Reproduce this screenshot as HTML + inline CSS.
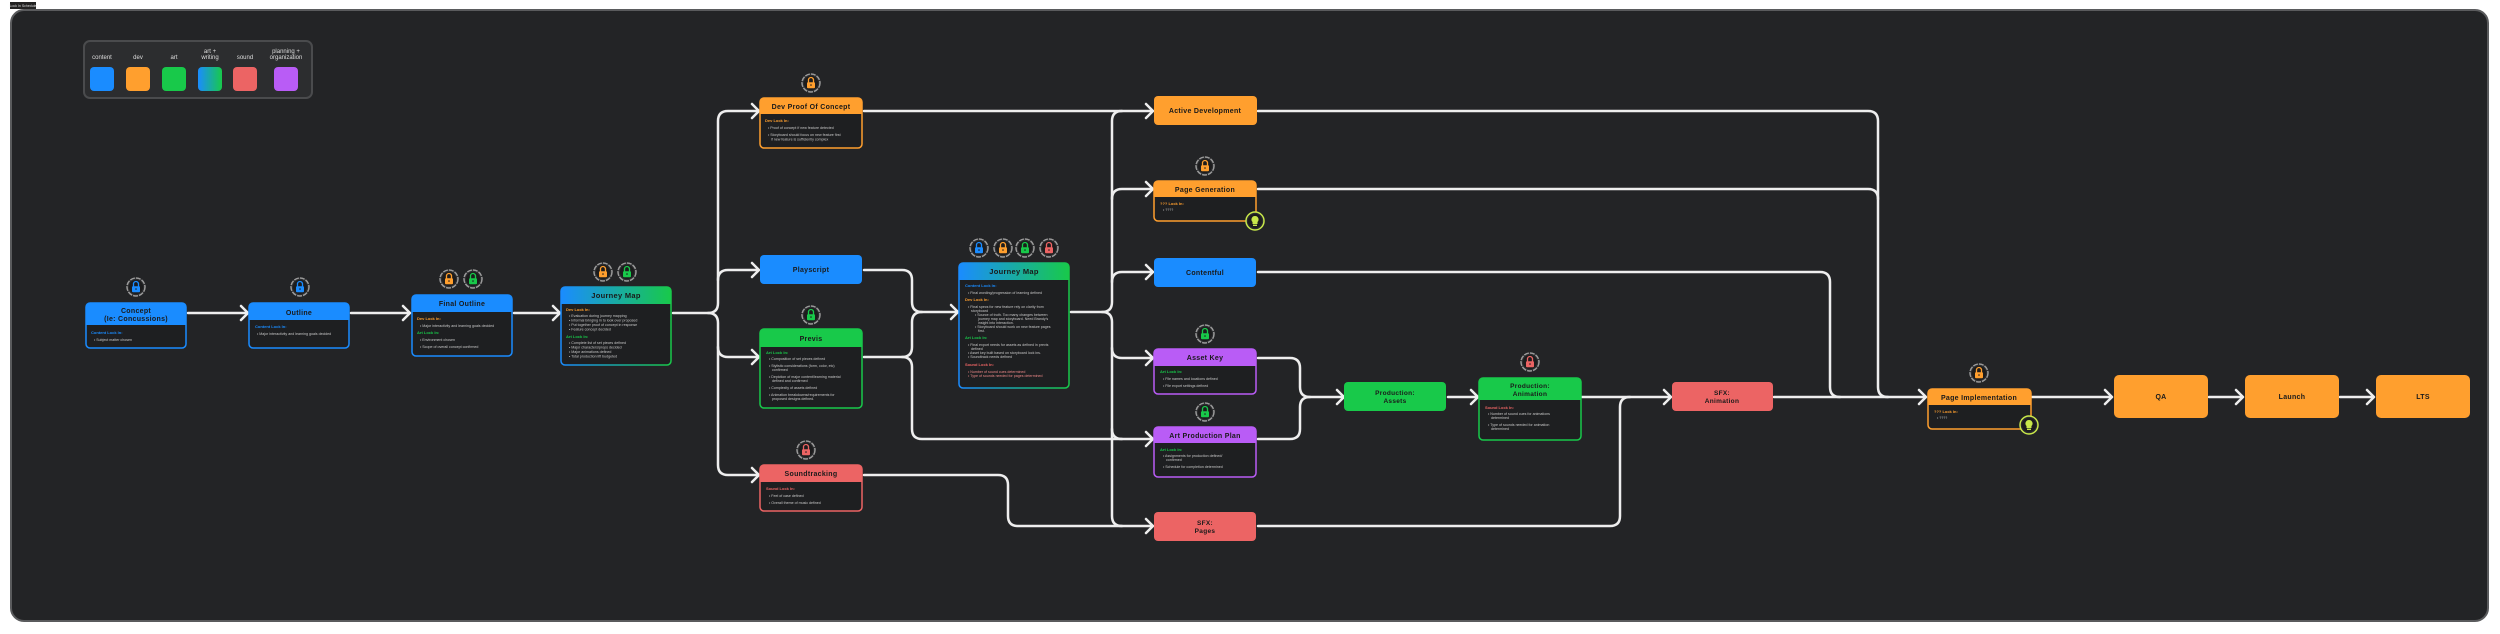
<!DOCTYPE html>
<html><head><meta charset="utf-8"><style>
html,body{margin:0;padding:0;background:#fff;width:2500px;height:634px;overflow:hidden}
svg{display:block}
.t{font-family:"Liberation Sans",sans-serif;font-weight:bold;fill:#1a1a1a;text-anchor:middle;letter-spacing:0.3px}
.lg{font-family:"Liberation Sans",sans-serif;fill:#ddd;font-size:6px;text-anchor:middle}
.h{font-family:"Liberation Sans",sans-serif;font-size:4px;font-weight:bold}
.b{font-family:"Liberation Sans",sans-serif;font-size:3.6px;fill:#c8c8c8}
.e{fill:none;stroke:#eee;stroke-width:2.5;stroke-linecap:round;stroke-linejoin:round}
</style></head><body>
<svg width="2500" height="634" viewBox="0 0 2500 634" xmlns="http://www.w3.org/2000/svg">
<defs>
<linearGradient id="g" x1="0" x2="1" y1="0" y2="0"><stop offset="0" stop-color="#1a8cff"/><stop offset="1" stop-color="#18c94a"/></linearGradient>
<symbol id="lk" viewBox="-10 -10 20 20">
<circle r="9" fill="#2b2c2e" stroke="#9a9a9a" stroke-width="1.5" stroke-dasharray="5 1"/>
<circle r="7" fill="#1c1c1d"/>
<path d="M-2.5 -0.5 V-3 A2.5 2.5 0 0 1 2.5 -3 V-0.5" fill="none" stroke="currentColor" stroke-width="1.3"/>
<rect x="-4" y="-0.8" width="8" height="6" rx="1" fill="currentColor"/>
<circle cy="2" r="0.8" fill="#1c1c1d"/>
</symbol>
<symbol id="bulb" viewBox="-10 -10 20 20">
<circle r="9" fill="#2b2c2e" stroke="#c8e84a" stroke-width="1.5"/>
<circle r="7" fill="#1c1c1d"/>
<path d="M0 -5 A3.5 3.5 0 0 1 2.5 1 V3 H-2.5 V1 A3.5 3.5 0 0 1 0 -5Z" fill="#c8e84a"/>
<rect x="-2" y="3.6" width="4" height="1.4" fill="#c8e84a"/>
</symbol>
</defs>
<rect x="0" y="0" width="2500" height="634" fill="#fff"/>
<rect x="10" y="2" width="26" height="7" fill="#222"/>
<text x="23" y="7" font-family="Liberation Sans" font-size="3.5" fill="#ddd" text-anchor="middle">Lock In Schedule</text>
<rect x="11" y="10" width="2477" height="611" rx="13" fill="#232426" stroke="#5a5b5d" stroke-width="2"/>

<!-- legend -->
<rect x="84" y="41" width="228" height="57" rx="6" fill="#2c2d2f" stroke="#4a4b4d" stroke-width="2"/>
<text class="lg" x="102" y="59">content</text>
<text class="lg" x="138" y="59">dev</text>
<text class="lg" x="174" y="59">art</text>
<text class="lg" x="210" y="53">art +</text><text class="lg" x="210" y="59">writing</text>
<text class="lg" x="245" y="59">sound</text>
<text class="lg" x="286" y="53">planning +</text><text class="lg" x="286" y="59">organization</text>
<rect x="90" y="67" width="24" height="24" rx="4" fill="#1a8cff"/>
<rect x="126" y="67" width="24" height="24" rx="4" fill="#ff9f2e"/>
<rect x="162" y="67" width="24" height="24" rx="4" fill="#18c94a"/>
<rect x="198" y="67" width="24" height="24" rx="4" fill="url(#g)"/>
<rect x="233" y="67" width="24" height="24" rx="4" fill="#ec6464"/>
<rect x="274" y="67" width="24" height="24" rx="4" fill="#b95cf6"/>

<!-- edges -->
<g class="e">
<path d="M188 313H247M351 313H409M514 313H559"/>
<path d="M673 313H708Q718 313 718 303V121Q718 111 728 111H758"/>
<path d="M708 313Q718 313 718 323V465Q718 475 728 475H758"/>
<path d="M718 280Q718 270 728 270H758M718 347Q718 357 728 357H758"/>
<path d="M864 270H902Q912 270 912 280V302Q912 312 922 312H957"/>
<path d="M864 357H902Q912 357 912 347V322Q912 312 922 312"/>
<path d="M902 357Q912 357 912 367V429Q912 439 922 439H1152"/>
<path d="M864 475H998Q1008 475 1008 485V516Q1008 526 1018 526H1152"/>
<path d="M864 111H1152"/>
<path d="M1071 312H1102Q1112 312 1112 302V121Q1112 111 1122 111"/>
<path d="M1102 312Q1112 312 1112 322V516Q1112 526 1122 526"/>
<path d="M1112 199Q1112 189 1122 189H1152M1112 282Q1112 272 1122 272H1152M1112 348Q1112 358 1122 358H1152M1112 429Q1112 439 1122 439"/>
<path d="M1258 358H1290Q1300 358 1300 368V387Q1300 397 1310 397H1343"/>
<path d="M1258 439H1290Q1300 439 1300 429V407Q1300 397 1310 397"/>
<path d="M1448 397H1477M1582 397H1670"/>
<path d="M1258 526H1610Q1620 526 1620 516V407Q1620 397 1630 397"/>
<path d="M1774 397H1925"/>
<path d="M1258 111H1868Q1878 111 1878 121V387Q1878 397 1888 397"/>
<path d="M1258 189H1868Q1878 189 1878 199"/>
<path d="M1258 272H1820Q1830 272 1830 282V387Q1830 397 1840 397"/>
<path d="M2032 397H2111M2209 397H2242M2340 397H2373"/>
<!-- arrowheads -->
<path d="M241 306L248 313L241 320M403 306L410 313L403 320M553 306L560 313L553 320"/>
<path d="M752 104L759 111L752 118M752 263L759 270L752 277M752 350L759 357L752 364M752 468L759 475L752 482"/>
<path d="M951 305L958 312L951 319"/>
<path d="M1146 104L1153 111L1146 118M1146 182L1153 189L1146 196M1146 265L1153 272L1146 279M1146 351L1153 358L1146 365M1146 432L1153 439L1146 446M1146 519L1153 526L1146 533"/>
<path d="M1337 390L1344 397L1337 404M1471 390L1478 397L1471 404M1664 390L1671 397L1664 404M1919 390L1926 397L1919 404"/>
<path d="M2105 390L2112 397L2105 404M2236 390L2243 397L2236 404M2367 390L2374 397L2367 404"/>
</g>

<!-- Concept -->
<rect x="86" y="303" width="100" height="45" rx="4" fill="#1e1f21" stroke="#1a8cff" stroke-width="1.5"/>
<path d="M86 325V307Q86 303 90 303H180Q186 303 186 309V325Z" fill="#1a8cff"/>
<text class="t" x="136" y="313" font-size="7">Concept</text><text class="t" x="136" y="321" font-size="7">(Ie: Concussions)</text>
<text class="h" x="91" y="334" fill="#1a8cff">Content Lock In:</text>
<text class="b" x="94" y="341">•  Subject matter chosen</text>
<use href="#lk" x="126" y="277" width="20" height="20" style="color:#1a8cff"/>

<!-- Outline -->
<rect x="249" y="303" width="100" height="45" rx="4" fill="#1e1f21" stroke="#1a8cff" stroke-width="1.5"/>
<path d="M249 320V307Q249 303 253 303H343Q349 303 349 309V320Z" fill="#1a8cff"/>
<text class="t" x="299" y="315" font-size="7">Outline</text>
<text class="h" x="255" y="328" fill="#1a8cff">Content Lock In:</text>
<text class="b" x="257" y="335">•  Major interactivity and learning goals decided</text>
<use href="#lk" x="290" y="277" width="20" height="20" style="color:#1a8cff"/>

<!-- Final Outline -->
<rect x="412" y="295" width="100" height="61" rx="4" fill="#1e1f21" stroke="#1a8cff" stroke-width="1.5"/>
<path d="M412 312V299Q412 295 416 295H506Q512 295 512 301V312Z" fill="#1a8cff"/>
<text class="t" x="462" y="306" font-size="7">Final Outline</text>
<text class="h" x="417" y="320" fill="#ff9f2e">Dev Lock In:</text>
<text class="b" x="420" y="327">•  Major interactivity and learning goals decided</text>
<text class="h" x="417" y="334" fill="#18c94a">Art Lock In:</text>
<text class="b" x="420" y="341">•  Environment chosen</text>
<text class="b" x="420" y="348">•  Scope of overall concept confirmed</text>
<use href="#lk" x="439" y="269" width="20" height="20" style="color:#ff9f2e"/>
<use href="#lk" x="463" y="269" width="20" height="20" style="color:#18c94a"/>

<!-- Journey Map 1 -->
<rect x="561" y="287" width="110" height="78" rx="4" fill="#1e1f21" stroke="url(#g)" stroke-width="1.5"/>
<path d="M561 304V291Q561 287 565 287H665Q671 287 671 293V304Z" fill="url(#g)"/>
<text class="t" x="616" y="298" font-size="7.5">Journey Map</text>
<text class="h" x="566" y="311" fill="#ff9f2e">Dev Lock In:</text>
<text class="b" x="569" y="317">•  Evaluation during journey mapping</text>
<text class="b" x="569" y="321.5">•  Informal bringing in to look over proposed</text>
<text class="b" x="569" y="326">•  Put together proof of concept in response</text>
<text class="b" x="569" y="330.5">•  Feature concept decided</text>
<text class="h" x="566" y="338" fill="#18c94a">Art Lock In:</text>
<text class="b" x="569" y="344">•  Complete list of set pieces defined</text>
<text class="b" x="569" y="348.5">•  Major characters/props decided</text>
<text class="b" x="569" y="353">•  Major animations defined</text>
<text class="b" x="569" y="357.5">•  Total production lift budgeted</text>
<use href="#lk" x="593" y="262" width="20" height="20" style="color:#ff9f2e"/>
<use href="#lk" x="617" y="262" width="20" height="20" style="color:#18c94a"/>

<!-- Dev PoC -->
<rect x="760" y="98" width="102" height="50" rx="4" fill="#1e1f21" stroke="#ff9f2e" stroke-width="1.5"/>
<path d="M760 114V102Q760 98 764 98H856Q862 98 862 104V114Z" fill="#ff9f2e"/>
<text class="t" x="811" y="109" font-size="7">Dev Proof Of Concept</text>
<text class="h" x="765" y="122" fill="#ff9f2e">Dev Lock In:</text>
<text class="b" x="768" y="129">•  Proof of concept if new feature detected</text>
<text class="b" x="768" y="136">•  Storyboard should focus on new feature first</text>
<text class="b" x="771" y="140.5">if new feature is sufficiently complex</text>
<use href="#lk" x="801" y="73" width="20" height="20" style="color:#ff9f2e"/>

<!-- Playscript -->
<rect x="760" y="255" width="102" height="29" rx="4" fill="#1a8cff"/>
<text class="t" x="811" y="272" font-size="7">Playscript</text>

<!-- Previs -->
<rect x="760" y="329" width="102" height="79" rx="4" fill="#1e1f21" stroke="#18c94a" stroke-width="1.5"/>
<path d="M760 347V333Q760 329 764 329H856Q862 329 862 335V347Z" fill="#18c94a"/>
<text class="t" x="811" y="341" font-size="7">Previs</text>
<text class="h" x="766" y="354" fill="#18c94a">Art Lock In:</text>
<text class="b" x="769" y="360">•  Composition of set pieces defined</text>
<text class="b" x="769" y="367">•  Stylistic considerations (form, color, etc)</text>
<text class="b" x="772" y="371">confirmed</text>
<text class="b" x="769" y="378">•  Depiction of major content/learning material</text>
<text class="b" x="772" y="382">defined and confirmed</text>
<text class="b" x="769" y="389">•  Complexity of assets defined</text>
<text class="b" x="769" y="396">•  Animation breakdowns/requirements for</text>
<text class="b" x="772" y="400">proposed designs defined.</text>
<use href="#lk" x="801" y="305" width="20" height="20" style="color:#18c94a"/>

<!-- Soundtracking -->
<rect x="760" y="465" width="102" height="46" rx="4" fill="#1e1f21" stroke="#ec6464" stroke-width="1.5"/>
<path d="M760 482V469Q760 465 764 465H856Q862 465 862 471V482Z" fill="#ec6464"/>
<text class="t" x="811" y="476" font-size="7">Soundtracking</text>
<text class="h" x="766" y="490" fill="#ec6464">Sound Lock In:</text>
<text class="b" x="769" y="497">•  Feel of case defined</text>
<text class="b" x="769" y="504">•  Overall theme of music defined</text>
<use href="#lk" x="796" y="440" width="20" height="20" style="color:#ec6464"/>

<!-- Journey Map 2 -->
<rect x="959" y="263" width="110" height="125" rx="4" fill="#1e1f21" stroke="url(#g)" stroke-width="1.5"/>
<path d="M959 280V267Q959 263 963 263H1063Q1069 263 1069 269V280Z" fill="url(#g)"/>
<text class="t" x="1014" y="274" font-size="7.5">Journey Map</text>
<text class="h" x="965" y="287" fill="#1a8cff">Content Lock In:</text>
<text class="b" x="968" y="294">•  Final wording/progression of learning defined</text>
<text class="h" x="965" y="301" fill="#ff9f2e">Dev Lock In:</text>
<text class="b" x="968" y="308">•  Final specs for new feature rely on clarity from</text>
<text class="b" x="971" y="312">storyboard</text>
<text class="b" x="975" y="316">•  Source of truth. Too many changes between</text>
<text class="b" x="978" y="320">journey map and storyboard. Need Brandy's</text>
<text class="b" x="978" y="324">insight into interaction.</text>
<text class="b" x="975" y="328">•  Storyboard should work on new feature pages</text>
<text class="b" x="978" y="332">first.</text>
<text class="h" x="965" y="339" fill="#18c94a">Art Lock In:</text>
<text class="b" x="968" y="346">•  Final export needs for assets as defined in previs</text>
<text class="b" x="971" y="350">defined</text>
<text class="b" x="968" y="354">•  Asset key built based on storyboard lock ins.</text>
<text class="b" x="968" y="358">•  Soundtrack needs defined</text>
<text class="h" x="965" y="366" fill="#ec6464">Sound Lock In:</text>
<text class="b" x="968" y="373" style="fill:#e88">•  Number of sound cues determined</text>
<text class="b" x="968" y="377" style="fill:#e88">•  Type of sounds needed for pages determined</text>
<use href="#lk" x="969" y="238" width="20" height="20" style="color:#1a8cff"/>
<use href="#lk" x="993" y="238" width="20" height="20" style="color:#ff9f2e"/>
<use href="#lk" x="1015" y="238" width="20" height="20" style="color:#18c94a"/>
<use href="#lk" x="1039" y="238" width="20" height="20" style="color:#ec6464"/>

<!-- Active Development -->
<rect x="1154" y="96" width="103" height="29" rx="4" fill="#ff9f2e"/>
<text class="t" x="1205" y="113" font-size="7">Active Development</text>

<!-- Page Generation -->
<rect x="1154" y="181" width="102" height="40" rx="4" fill="#1e1f21" stroke="#ff9f2e" stroke-width="1.5"/>
<path d="M1154 197V185Q1154 181 1158 181H1250Q1256 181 1256 187V197Z" fill="#ff9f2e"/>
<text class="t" x="1205" y="192" font-size="7">Page Generation</text>
<text class="h" x="1160" y="205" fill="#ff9f2e">??? Lock In:</text>
<text class="b" x="1163" y="211">•  ????</text>
<use href="#lk" x="1195" y="156" width="20" height="20" style="color:#ff9f2e"/>
<use href="#bulb" x="1245" y="211" width="20" height="20"/>

<!-- Contentful -->
<rect x="1154" y="258" width="102" height="29" rx="4" fill="#1a8cff"/>
<text class="t" x="1205" y="275" font-size="7">Contentful</text>

<!-- Asset Key -->
<rect x="1154" y="349" width="102" height="45" rx="4" fill="#1e1f21" stroke="#b95cf6" stroke-width="1.5"/>
<path d="M1154 366V353Q1154 349 1158 349H1250Q1256 349 1256 355V366Z" fill="#b95cf6"/>
<text class="t" x="1205" y="360" font-size="7">Asset Key</text>
<text class="h" x="1160" y="373" fill="#18c94a">Art Lock In:</text>
<text class="b" x="1163" y="380">•  File names and locations defined</text>
<text class="b" x="1163" y="387">•  File export settings defined</text>
<use href="#lk" x="1195" y="324" width="20" height="20" style="color:#18c94a"/>

<!-- Art Production Plan -->
<rect x="1154" y="427" width="102" height="50" rx="4" fill="#1e1f21" stroke="#b95cf6" stroke-width="1.5"/>
<path d="M1154 443V431Q1154 427 1158 427H1250Q1256 427 1256 433V443Z" fill="#b95cf6"/>
<text class="t" x="1205" y="438" font-size="7">Art Production Plan</text>
<text class="h" x="1160" y="451" fill="#18c94a">Art Lock In:</text>
<text class="b" x="1163" y="457">•  Assignments for production defined/</text>
<text class="b" x="1166" y="461">confirmed</text>
<text class="b" x="1163" y="468">•  Schedule for completion determined</text>
<use href="#lk" x="1195" y="402" width="20" height="20" style="color:#18c94a"/>

<!-- SFX Pages -->
<rect x="1154" y="512" width="102" height="29" rx="4" fill="#ec6464"/>
<text class="t" x="1205" y="525" font-size="6.5">SFX:</text><text class="t" x="1205" y="533" font-size="6.5">Pages</text>

<!-- Production Assets -->
<rect x="1344" y="382" width="102" height="29" rx="4" fill="#18c94a"/>
<text class="t" x="1395" y="395" font-size="6.5">Production:</text><text class="t" x="1395" y="403" font-size="6.5">Assets</text>

<!-- Production Animation -->
<rect x="1479" y="378" width="102" height="62" rx="4" fill="#1e1f21" stroke="#18c94a" stroke-width="1.5"/>
<path d="M1479 400V382Q1479 378 1483 378H1575Q1581 378 1581 384V400Z" fill="#18c94a"/>
<text class="t" x="1530" y="388" font-size="6.5">Production:</text><text class="t" x="1530" y="396" font-size="6.5">Animation</text>
<text class="h" x="1485" y="409" fill="#ec6464">Sound Lock In:</text>
<text class="b" x="1488" y="415">•  Number of sound cues for animations</text>
<text class="b" x="1491" y="419">determined</text>
<text class="b" x="1488" y="426">•  Type of sounds needed for animation</text>
<text class="b" x="1491" y="430">determined</text>
<use href="#lk" x="1520" y="352" width="20" height="20" style="color:#ec6464"/>

<!-- SFX Animation -->
<rect x="1672" y="382" width="101" height="29" rx="4" fill="#ec6464"/>
<text class="t" x="1722" y="395" font-size="6.5">SFX:</text><text class="t" x="1722" y="403" font-size="6.5">Animation</text>

<!-- Page Implementation -->
<rect x="1928" y="389" width="103" height="40" rx="4" fill="#1e1f21" stroke="#ff9f2e" stroke-width="1.5"/>
<path d="M1928 405V393Q1928 389 1932 389H2025Q2031 389 2031 395V405Z" fill="#ff9f2e"/>
<text class="t" x="1979" y="400" font-size="7">Page Implementation</text>
<text class="h" x="1934" y="413" fill="#ff9f2e">??? Lock In:</text>
<text class="b" x="1937" y="419">•  ????</text>
<use href="#lk" x="1969" y="363" width="20" height="20" style="color:#ff9f2e"/>
<use href="#bulb" x="2019" y="415" width="20" height="20"/>

<!-- QA / Launch / LTS -->
<rect x="2114" y="375" width="94" height="43" rx="5" fill="#ff9f2e"/>
<text class="t" x="2161" y="399" font-size="7">QA</text>
<rect x="2245" y="375" width="94" height="43" rx="5" fill="#ff9f2e"/>
<text class="t" x="2292" y="399" font-size="7">Launch</text>
<rect x="2376" y="375" width="94" height="43" rx="5" fill="#ff9f2e"/>
<text class="t" x="2423" y="399" font-size="7">LTS</text>
</svg>
</body></html>
